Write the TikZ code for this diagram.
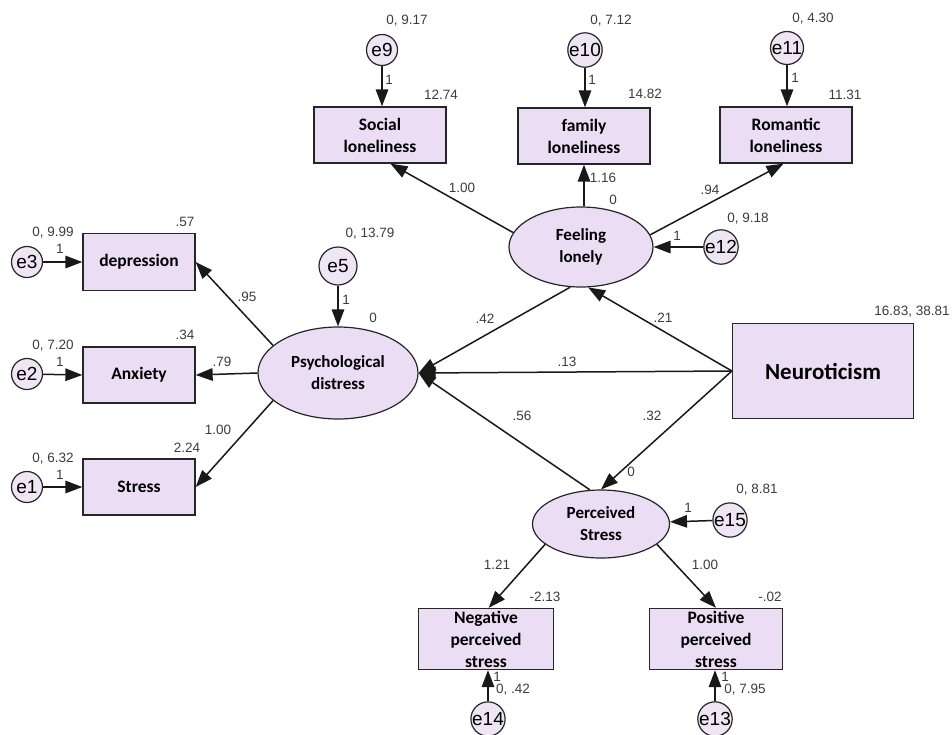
\documentclass[tikz,border=0pt]{standalone}
\usepackage{fontspec}
\setmainfont{Liberation Sans}
\newfontfamily\boxfont{Carlito}
\usetikzlibrary{arrows.meta,shapes.geometric,positioning}
\definecolor{lilac}{HTML}{EBDDF3}
\definecolor{errfill}{HTML}{EEE6F4}
\definecolor{numgray}{HTML}{3C3C3C}

\begin{document}
\begin{tikzpicture}[x=1pt,y=-1pt,
  obs/.style={draw=black!85,fill=lilac,line width=1.3pt,minimum width=132pt,minimum height=56pt,inner sep=0pt,align=center,font=\boxfont\bfseries\fontsize{17.5}{22}\selectfont},
  lat/.style={draw=black!85,ellipse,fill=lilac,line width=1.2pt,inner sep=0pt,align=center,font=\boxfont\bfseries\fontsize{17}{22}\selectfont},
  err/.style={draw=black!85,circle,fill=errfill,line width=1.2pt,minimum size=31pt,inner sep=0pt,font=\fontsize{19}{19}\selectfont},
  num/.style={text=numgray,inner sep=0pt,font=\fontsize{13.5}{13.5}\selectfont},
  lnk/.style={-{Triangle[length=17pt,width=12.5pt]},line width=1.5pt,black!90}]
\useasboundingbox (0,0) rectangle (952,734);

% observed variables
\node[obs] (soc) at (380,135) {Social\\loneliness};
\node[obs] (fam) at (584,136) {family\\loneliness};
\node[obs] (rom) at (786,135) {Romantic\\loneliness};
\node[obs,minimum width=112pt,minimum height=57pt] (dep) at (139,262) {depression};
\node[obs,minimum width=112pt,minimum height=56pt] (anx) at (139,375) {Anxiety};
\node[obs,minimum width=112pt,minimum height=56pt] (str) at (139,487) {Stress};
\node[obs,minimum width=135pt,minimum height=61pt] (neg) at (486,639) {Negative\\perceived\\stress};
\node[obs,minimum width=133pt,minimum height=61pt] (pos) at (716,639) {Positive\\perceived\\stress};
\node[obs,minimum width=181pt,minimum height=95pt,font=\boxfont\bfseries\fontsize{23}{26}\selectfont] (neu) at (823,371) {Neuroticism};

% latent variables
\node[lat,minimum width=144pt,minimum height=80pt] (lone) at (581,247) {Feeling\\lonely};
\node[lat,minimum width=160pt,minimum height=92pt] (psy) at (338,373) {Psychological\\distress};
\node[lat,minimum width=137pt,minimum height=68pt] (per) at (601,524) {Perceived\\Stress};

% error terms
\node[err] (e9) at (382,50) {e9};
\node[err] (e10) at (585,50) {e10};
\node[err] (e11) at (787,48) {e11};
\node[err] (e3) at (27,262) {e3};
\node[err] (e2) at (27,374) {e2};
\node[err] (e1) at (27,487) {e1};
\node[err,minimum size=38pt] (e5) at (338,266) {e5};
\node[err] (e12) at (721,247) {e12};
\node[err] (e15) at (730,520) {e15};
\node[err] (e14) at (488,719) {e14};
\node[err] (e13) at (715,719) {e13};

% error paths
\draw[lnk] (e9) -- (e9 |- soc.north);
\draw[lnk] (e10) -- (e10 |- fam.north);
\draw[lnk] (e11) -- (e11 |- rom.north);
\draw[lnk] (e3) -- (dep.west);
\draw[lnk] (e2) -- (anx.west);
\draw[lnk] (e1) -- (str.west);
\draw[lnk] (e5) -- (psy);
\draw[lnk] (e12) -- (lone);
\draw[lnk] (e15) -- (per);
\draw[lnk] (e14) -- (e14 |- neg.south);
\draw[lnk] (e13) -- (e13 |- pos.south);

% structural paths
\draw[lnk] (lone.168) -- (soc.290);
\draw[lnk] (fam.south |- lone.north) -- (fam.south);
\draw[lnk] (lone.10) -- (rom.265);
\draw[lnk] (psy.157) -- (dep.east);
\draw[lnk] (psy.west) -- (anx.east);
\draw[lnk] (psy.203) -- (str.east);
\draw[lnk] (neu.west) -- (lone.280);
\draw[lnk] (lone.255) -- (psy.east);
\draw[lnk] (neu.west) -- (psy.east);
\draw[lnk] (per.108) -- (psy.east);
\draw[lnk] (neu.west) -- (per.north);
\draw[lnk] (per.200) -- (neg.85);
\draw[lnk] (per.340) -- (pos.north);

% estimates
\node[num] (v9) at (407,21) {0, 9.17};
\node[num] (v10) at (611,21) {0, 7.12};
\node[num] (v11) at (813,19) {0, 4.30};
\node[num] (w9) at (389,80) {1};
\node[num] (w10) at (592,80) {1};
\node[num] (w11) at (795,78) {1};
\node[num] (i9) at (441,95) {12.74};
\node[num] (i10) at (645,94) {14.82};
\node[num] (i11) at (845,95) {11.31};
\node[num] (idep) at (185,222) {.57};
\node[num] (ianx) at (185,335) {.34};
\node[num] (istr) at (187,448) {2.24};
\node[num] (v3) at (53,233) {0, 9.99};
\node[num] (v2) at (53,346) {0, 7.20};
\node[num] (v1) at (53,459) {0, 6.32};
\node[num] (w3) at (60,249) {1};
\node[num] (w2) at (60,362) {1};
\node[num] (w1) at (60,475) {1};
\node[num] (bdep) at (247,297) {.95};
\node[num] (banx) at (222,362) {.79};
\node[num] (bstr) at (218,430) {1.00};
\node[num] (v5) at (370,234) {0, 13.79};
\node[num] (w5) at (346,300) {1};
\node[num] (ipsy) at (373,318) {0};
\node[num] (bsoc) at (462,188) {1.00};
\node[num] (bfam) at (603,178) {1.16};
\node[num] (ilone) at (613,200) {0};
\node[num] (brom) at (710,190) {.94};
\node[num] (v12) at (748,219) {0, 9.18};
\node[num] (w12) at (677,236) {1};
\node[num] (vneu) at (912,312) {16.83, 38.81};
\node[num] (blp) at (485,319) {.42};
\node[num] (bnl) at (663,318) {.21};
\node[num] (bnp) at (567,362) {.13};
\node[num] (bpp) at (522,416) {.56};
\node[num] (bns) at (652,416) {.32};
\node[num] (iper) at (631,472) {0};
\node[num] (v15) at (757,490) {0, 8.81};
\node[num] (w15) at (688,508) {1};
\node[num] (bneg) at (497,565) {1.21};
\node[num] (bpos) at (705,565) {1.00};
\node[num] (ineg) at (545,597) {-2.13};
\node[num] (ipos) at (770,597) {-.02};
\node[num] (w14) at (497,677) {1};
\node[num] (v14) at (513,690) {0, .42};
\node[num] (w13) at (725,677) {1};
\node[num] (v13) at (745,690) {0, 7.95};
\end{tikzpicture}
\end{document}
